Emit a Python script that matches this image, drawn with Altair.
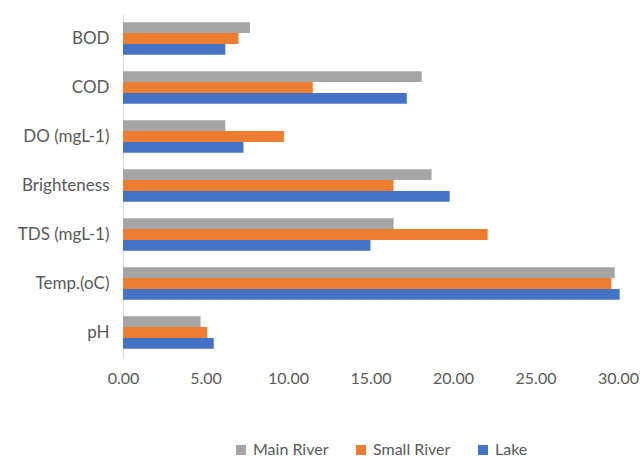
import altair as alt
import pandas as pd

categories = ["BOD", "COD", "DO (mgL-1)", "Brighteness", "TDS (mgL-1)", "Temp.(oC)", "pH"]
series = ["Main River", "Small River", "Lake"]
main_river = [7.7, 18.1, 6.2, 18.7, 16.4, 29.8, 4.7]
small_river = [7.0, 11.5, 9.75, 16.4, 22.1, 29.6, 5.1]
lake = [6.2, 17.2, 7.3, 19.8, 15.0, 30.1, 5.5]
colors = ["#A5A5A5", "#ED7D31", "#4472C4"]
x_ticks = [0, 5, 10, 15, 20, 25, 30]

rows = []
for name, vals in zip(series, [main_river, small_river, lake]):
    for c, v in zip(categories, vals):
        rows.append({"param": c, "site": name, "value": v})
df = pd.DataFrame(rows)

font = "Lato"
chart = alt.Chart(df).mark_bar().encode(
    y=alt.Y("param:N", sort=categories, title=None,
            scale=alt.Scale(paddingInner=0.34, paddingOuter=0.17),
            axis=alt.Axis(domain=True, domainColor="#D9D9D9", ticks=False,
                          labelPadding=14, labelFontSize=17, labelColor="#595959",
                          labelFont=font, grid=False)),
    yOffset=alt.YOffset("site:N", sort=series),
    x=alt.X("value:Q", title=None,
            scale=alt.Scale(domain=[0, 30], nice=False),
            axis=alt.Axis(values=x_ticks, format=".2f", domain=False, ticks=False,
                          grid=False, labelPadding=13, labelFontSize=16,
                          labelFlush=False,
                          labelColor="#595959", labelFont=font)),
    color=alt.Color("site:N", sort=series,
                    scale=alt.Scale(domain=series, range=colors),
                    legend=alt.Legend(title=None, orient="none", direction="horizontal",
                                      legendX=110, legendY=428, symbolType="square",
                                      symbolSize=100, symbolStrokeWidth=0,
                                      labelFontSize=16, labelColor="#595959",
                                      labelOffset=4,
                                      labelFont=font, columnPadding=24)),
).properties(
    width=495, height=343,
    autosize=alt.AutoSizeParams(type="none"),
    padding={"left": 123, "top": 14, "right": 25, "bottom": 100},
).configure_view(stroke=None)

chart.save("out.html", embed_options={"renderer": "svg", "actions": False})
